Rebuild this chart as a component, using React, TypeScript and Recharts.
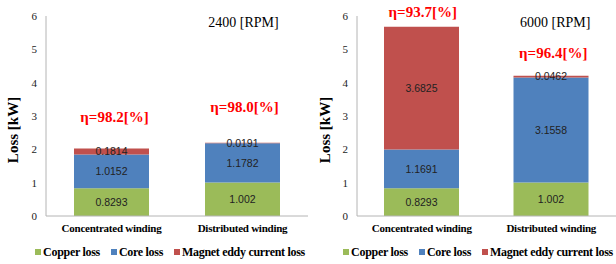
import React from 'react';
import { BarChart, Bar, XAxis, YAxis, LabelList, Legend, ReferenceDot } from 'recharts';

const categories = ['Concentrated winding', 'Distributed winding'];
const yTicks = [0, 1, 2, 3, 4, 5, 6];

const copper2400 = [0.8293, 1.002];
const core2400 = [1.0152, 1.1782];
const magnet2400 = [0.1814, 0.0191];
const efficiency2400 = ['98.2', '98.0'];

const copper6000 = [0.8293, 1.002];
const core6000 = [1.1691, 3.1558];
const magnet6000 = [3.6825, 0.0462];
const efficiency6000 = ['93.7', '96.4'];

const seriesNames = ['Copper loss', 'Core loss', 'Magnet eddy current loss'];
const colors = ['#9BBB59', '#4F81BD', '#C0504D'];

const serif = '"Times New Roman", "Liberation Serif", serif';
const sans = '"Liberation Sans", Arial, sans-serif';

interface PanelProps {
  rpm: string;
  copper: number[];
  core: number[];
  magnet: number[];
  efficiency: string[];
  axisWidth: number;
  etaY: number[]; // where the efficiency notes sit, in axis units
  etaDx: number[];
  rpmDx: number;
  labelDx: number;
}

const LegendBox = () => (
  <div
    style={{
      display: 'flex',
      justifyContent: 'center',
      alignItems: 'center',
      height: 24,
      fontFamily: serif,
      fontWeight: 'bold',
      fontSize: 12,
      letterSpacing: -0.3,
      color: '#000',
    }}
  >
    {seriesNames.map((n, i) => (
      <span key={n} style={{ display: 'flex', alignItems: 'center', marginRight: i < 2 ? 11 : 0 }}>
        <span style={{ width: 6, height: 6, background: colors[i], marginRight: 2 }} />
        {n}
      </span>
    ))}
  </div>
);

const LossPanel = ({ rpm, copper, core, magnet, efficiency, axisWidth, etaY, etaDx, rpmDx, labelDx }: PanelProps) => {
  const data = categories.map((name, i) => ({
    name,
    copper: copper[i],
    core: core[i],
    magnet: magnet[i],
  }));
  const keys = ['copper', 'core', 'magnet'];

  return (
    <BarChart width={308} height={264} data={data} margin={{ top: 16, right: 0, left: 0, bottom: 0 }} barSize={75}>
      <XAxis
        dataKey="name"
        height={24}
        tickLine={false}
        axisLine={{ stroke: '#B4B4B4' }}
        tick={{ fontFamily: serif, fontWeight: 'bold', fontSize: 11, fill: '#000', letterSpacing: -0.25 }}
      />
      <YAxis
        width={axisWidth}
        domain={[0, 6]}
        ticks={yTicks}
        tickLine={false}
        tickMargin={3}
        axisLine={{ stroke: '#B4B4B4' }}
        tick={{ fontFamily: serif, fontSize: 11, fill: '#222' }}
        label={{
          value: 'Loss [kW]',
          angle: -90,
          position: 'center',
          dx: labelDx,
          dy: 14,
          style: { fontFamily: serif, fontWeight: 'bold', fontSize: 15, fill: '#000' },
        }}
      />
      <Legend verticalAlign="bottom" content={LegendBox} wrapperStyle={{ left: 0, width: 340, height: 24 }} />
      {keys.map((k, i) => (
        <Bar key={k} dataKey={k} name={seriesNames[i]} stackId="a" fill={colors[i]} isAnimationActive={false}>
          <LabelList dataKey={k} position="center" style={{ fontFamily: sans, fontSize: 10.5, fill: '#222' }} />
        </Bar>
      ))}
      {categories.map((c, i) => (
        <ReferenceDot
          key={c}
          x={c}
          y={etaY[i]}
          r={0}
          ifOverflow="visible"
          label={{
            value: `η=${efficiency[i]}[%]`,
            position: 'center',
            dx: etaDx[i],
            style: { fontFamily: serif, fontWeight: 'bold', fontSize: 15, fill: '#FF0000' },
          }}
        />
      ))}
      <ReferenceDot
        x={categories[1]}
        y={5.82}
        r={0}
        ifOverflow="visible"
        label={{
          value: `${rpm} [RPM]`,
          position: 'center',
          dx: rpmDx,
          style: { fontFamily: serif, fontSize: 14, fill: '#000' },
        }}
      />
    </BarChart>
  );
};

const App = () => (
  <div style={{ position: 'absolute', left: 0, top: 0, width: 616, height: 264, display: 'flex', background: '#fff' }}>
    <LossPanel
      rpm="2400"
      copper={copper2400}
      core={core2400}
      magnet={magnet2400}
      efficiency={efficiency2400}
      axisWidth={46}
      etaY={[2.97, 3.27]}
      etaDx={[3, 2]}
      rpmDx={1}
      labelDx={-10}
    />
    <LossPanel
      rpm="6000"
      copper={copper6000}
      core={core6000}
      magnet={magnet6000}
      efficiency={efficiency6000}
      axisWidth={49}
      etaY={[6.12, 4.89]}
      etaDx={[1, 2]}
      rpmDx={4}
      labelDx={-7.5}
    />
  </div>
);

export default App;
